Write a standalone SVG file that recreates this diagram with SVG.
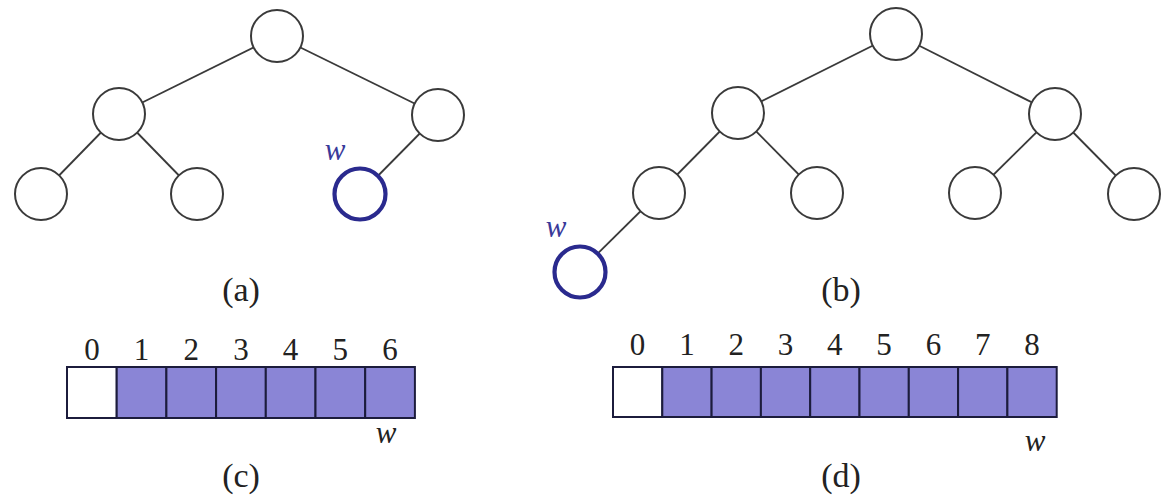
<svg xmlns="http://www.w3.org/2000/svg" width="1170" height="497" viewBox="0 0 1170 497">
<style>
.edge{stroke:#3a3a3a;stroke-width:1.8;fill:none}
.node{fill:#fff;stroke:#3a3a3a;stroke-width:2}
.wnode{fill:#fff;stroke:#2a2a8e;stroke-width:4.2}
.lbl{font-family:"Liberation Serif",serif;font-size:34px;fill:#222;text-anchor:middle}
.dig{font-family:"Liberation Serif",serif;font-size:31px;fill:#222;text-anchor:middle}
.wl{font-family:"Liberation Serif",serif;font-style:italic;font-size:31px;fill:#3a3a9a;text-anchor:middle}
.wb{font-family:"Liberation Serif",serif;font-style:italic;font-size:31px;fill:#222;text-anchor:middle}
.cell{fill:#8a85d6;stroke:#1c1c3c;stroke-width:2}
.cell0{fill:#fff;stroke:#1c1c3c;stroke-width:2}
</style>
<rect width="1170" height="497" fill="#fff"/>
<g id="connectors">
<line class="edge" x1="277" y1="36" x2="119" y2="114"/>
<line class="edge" x1="277" y1="36" x2="438" y2="115"/>
<line class="edge" x1="119" y1="114" x2="41" y2="194"/>
<line class="edge" x1="119" y1="114" x2="197" y2="194"/>
<line class="edge" x1="438" y1="115" x2="360" y2="194"/>
<line class="edge" x1="896" y1="34" x2="738" y2="113"/>
<line class="edge" x1="896" y1="34" x2="1055" y2="114"/>
<line class="edge" x1="738" y1="113" x2="659" y2="193"/>
<line class="edge" x1="738" y1="113" x2="817" y2="193"/>
<line class="edge" x1="1055" y1="114" x2="975" y2="193"/>
<line class="edge" x1="1055" y1="114" x2="1134" y2="194"/>
<line class="edge" x1="659" y1="193" x2="579" y2="272"/>
</g>
<g id="a-root"><circle class="node" cx="277" cy="36" r="26"/></g>
<g id="a-left"><circle class="node" cx="119" cy="114" r="26"/></g>
<g id="a-right"><circle class="node" cx="438" cy="115" r="26"/></g>
<g id="a-ll"><circle class="node" cx="41" cy="194" r="26"/></g>
<g id="a-lr"><circle class="node" cx="197" cy="194" r="26"/></g>
<g id="a-w"><circle class="wnode" cx="360" cy="194" r="25.5"/><text class="wl" x="335" y="160">w</text></g>
<g id="b-root"><circle class="node" cx="896" cy="34" r="26"/></g>
<g id="b-left"><circle class="node" cx="738" cy="113" r="26"/></g>
<g id="b-right"><circle class="node" cx="1055" cy="114" r="26"/></g>
<g id="b-ll"><circle class="node" cx="659" cy="193" r="26"/></g>
<g id="b-lr"><circle class="node" cx="817" cy="193" r="26"/></g>
<g id="b-rl"><circle class="node" cx="975" cy="193" r="26"/></g>
<g id="b-rr"><circle class="node" cx="1134" cy="194" r="26"/></g>
<g id="b-w"><circle class="wnode" cx="580" cy="272" r="25.5"/><text class="wl" x="556" y="237">w</text></g>
<g id="labels">
<text class="lbl" x="241" y="301">(a)</text>
<text class="lbl" x="841" y="301">(b)</text>
<text class="lbl" x="241" y="487">(c)</text>
<text class="lbl" x="841" y="487">(d)</text>
</g>
<g id="array-c">
<rect class="cell0" x="67" y="367" width="49.7" height="51"/>
<rect class="cell" x="116.7" y="367" width="49.7" height="51"/>
<rect class="cell" x="166.4" y="367" width="49.7" height="51"/>
<rect class="cell" x="216.1" y="367" width="49.7" height="51"/>
<rect class="cell" x="265.8" y="367" width="49.7" height="51"/>
<rect class="cell" x="315.5" y="367" width="49.7" height="51"/>
<rect class="cell" x="365.2" y="367" width="49.7" height="51"/>
<text class="dig" x="92" y="360">0</text>
<text class="dig" x="141.5" y="360">1</text>
<text class="dig" x="191.2" y="360">2</text>
<text class="dig" x="241" y="360">3</text>
<text class="dig" x="290.6" y="360">4</text>
<text class="dig" x="340.3" y="360">5</text>
<text class="dig" x="390" y="360">6</text>
<text class="wb" x="386" y="443">w</text>
</g>
<g id="array-d">
<rect class="cell0" x="613" y="367" width="49.3" height="50"/>
<rect class="cell" x="662.3" y="367" width="49.3" height="50"/>
<rect class="cell" x="711.6" y="367" width="49.3" height="50"/>
<rect class="cell" x="760.9" y="367" width="49.3" height="50"/>
<rect class="cell" x="810.2" y="367" width="49.3" height="50"/>
<rect class="cell" x="859.5" y="367" width="49.3" height="50"/>
<rect class="cell" x="908.8" y="367" width="49.3" height="50"/>
<rect class="cell" x="958.1" y="367" width="49.3" height="50"/>
<rect class="cell" x="1007.4" y="367" width="49.3" height="50"/>
<text class="dig" x="637.6" y="355">0</text>
<text class="dig" x="687" y="355">1</text>
<text class="dig" x="736.2" y="355">2</text>
<text class="dig" x="785.5" y="355">3</text>
<text class="dig" x="834.8" y="355">4</text>
<text class="dig" x="884.1" y="355">5</text>
<text class="dig" x="933.4" y="355">6</text>
<text class="dig" x="982.7" y="355">7</text>
<text class="dig" x="1032" y="355">8</text>
<text class="wb" x="1035" y="451">w</text>
</g>
</svg>
